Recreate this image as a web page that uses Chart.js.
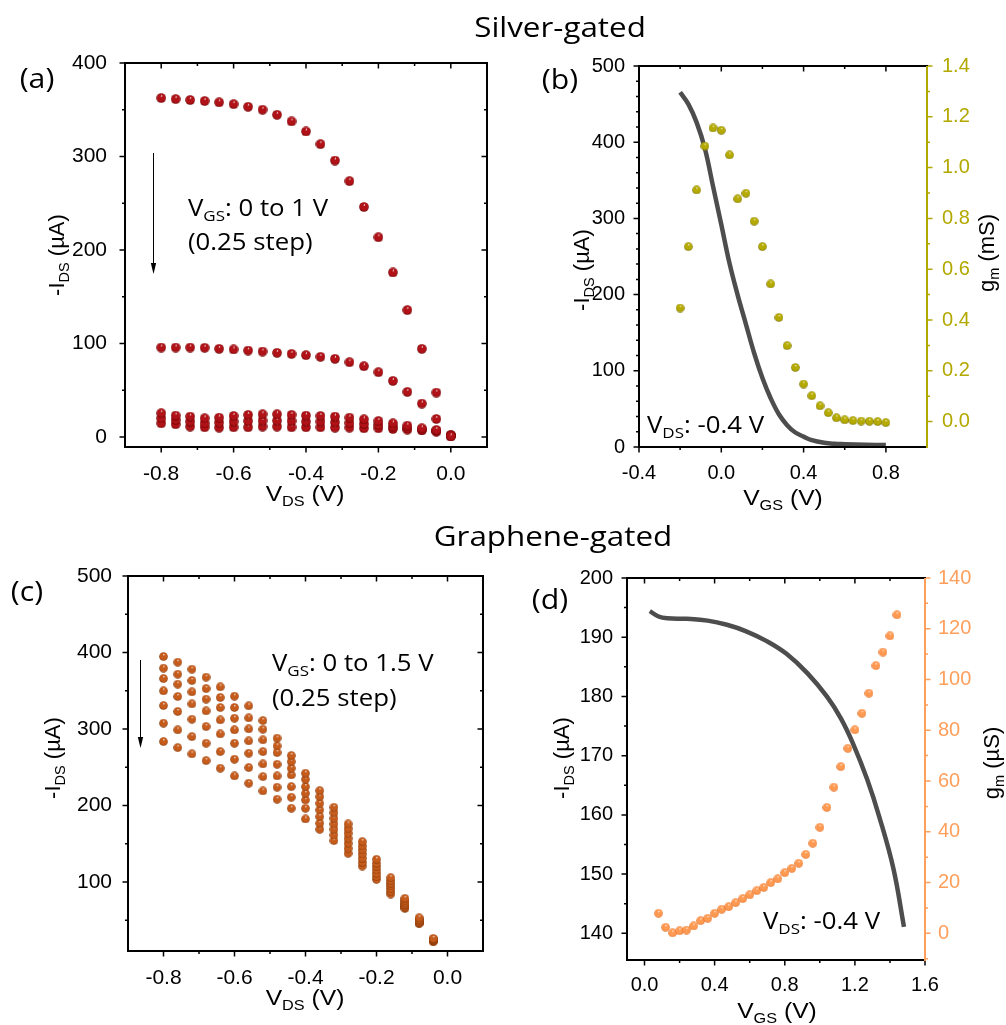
<!DOCTYPE html>
<html><head><meta charset="utf-8">
<script src="https://cdn.jsdelivr.net/npm/chart.js@4"></script>
<style>
body{margin:0;background:#fff;width:1006px;height:1025px;position:relative;overflow:hidden}
canvas{position:absolute}
.t{position:absolute;white-space:nowrap;color:#000;line-height:1}
.cal{font-family:'Open Sans',sans-serif}
.ar{font-family:'Liberation Sans',Arial,sans-serif;font-size:22px}
.s{font-size:0.66em;position:relative;top:0.32em}
.c{transform:translate(-50%,-50%) scaleX(1.12)}
.r{transform:translate(-50%,-50%) rotate(-90deg)}
.l{transform-origin:left center;transform:translateY(-50%) scaleX(1.12)}
</style></head><body>
<canvas id="ca"></canvas><canvas id="cb"></canvas><canvas id="cc"></canvas><canvas id="cd"></canvas>

<svg width="1006" height="1025" style="position:absolute;left:0;top:0;pointer-events:none" fill="none">
<!-- (a) frame and ticks -->
<path stroke="#000" stroke-width="1.5" d="M161.2 447V452.5M233.6 447V452.5M306 447V452.5M378.4 447V452.5M450.8 447V452.5M161.2 63V68.5M233.6 63V68.5M306 63V68.5M378.4 63V68.5M450.8 63V68.5M197.4 447V450M269.8 447V450M342.2 447V450M414.6 447V450M197.4 63V66M269.8 63V66M342.2 63V66M414.6 63V66M125 437H119.5M125 343.5H119.5M125 250H119.5M125 156.5H119.5M125 63H119.5M487 437H481.5M487 343.5H481.5M487 250H481.5M487 156.5H481.5M125 390.3H122M125 296.8H122M125 203.3H122M125 109.8H122M487 390.3H484M487 296.8H484M487 203.3H484M487 109.8H484"/>
<rect x="125" y="63" width="362" height="384" stroke="#000" stroke-width="2"/>
<!-- (b) frame and ticks -->
<path stroke="#000" stroke-width="1.5" d="M639 447V452.5M721.3 447V452.5M803.6 447V452.5M885.9 447V452.5M721.3 66V71.5M803.6 66V71.5M885.9 66V71.5M680.1 447V450M762.4 447V450M844.7 447V450M680.1 66V69M762.4 66V69M844.7 66V69M639 447H633.5M639 370.8H633.5M639 294.6H633.5M639 218.4H633.5M639 142.2H633.5M639 66H633.5M639 431.8H636M639 416.5H636M639 401.3H636M639 386H636M639 355.6H636M639 340.3H636M639 325.1H636M639 309.8H636M639 279.4H636M639 264.1H636M639 248.9H636M639 233.6H636M639 203.2H636M639 187.9H636M639 172.7H636M639 157.4H636M639 127H636M639 111.7H636M639 96.5H636M639 81.2H636"/>
<path stroke="#b3a800" stroke-width="1.5" d="M927 421.6H932.5M927 370.8H932.5M927 320H932.5M927 269.2H932.5M927 218.4H932.5M927 167.6H932.5M927 116.8H932.5M927 66H932.5M927 396.2H930M927 345.4H930M927 294.6H930M927 243.8H930M927 193H930M927 142.2H930M927 91.4H930"/>
<path stroke="#000" stroke-width="2" d="M638 66H928M638 447H928M639 66V447"/>
<path stroke="#b3a800" stroke-width="2" d="M927 66V448"/>
<!-- (c) frame and ticks -->
<path stroke="#000" stroke-width="1.5" d="M163.5 951V956.5M234.5 951V956.5M305.5 951V956.5M376.5 951V956.5M447.5 951V956.5M163.5 576V581.5M234.5 576V581.5M305.5 576V581.5M376.5 576V581.5M447.5 576V581.5M199 951V954M270 951V954M341 951V954M412 951V954M199 576V579M270 576V579M341 576V579M412 576V579M128 882H122.5M128 805.5H122.5M128 729H122.5M128 652.5H122.5M128 576H122.5M483 882H477.5M483 805.5H477.5M483 729H477.5M483 652.5H477.5M128 920.2H125M128 843.7H125M128 767.2H125M128 690.7H125M128 614.2H125M483 920.2H480M483 843.7H480M483 767.2H480M483 690.7H480M483 614.2H480"/>
<rect x="128" y="576" width="355" height="375" stroke="#000" stroke-width="2"/>
<!-- (d) frame and ticks -->
<path stroke="#000" stroke-width="1.5" d="M644.5 960V965.5M714.6 960V965.5M784.8 960V965.5M854.9 960V965.5M925 960V965.5M644.5 578V583.5M714.6 578V583.5M784.8 578V583.5M854.9 578V583.5M679.6 960V963M749.7 960V963M819.8 960V963M890 960V963M679.6 578V581M749.7 578V581M819.8 578V581M890 578V581M627 933.3H621.5M627 874.1H621.5M627 814.9H621.5M627 755.7H621.5M627 696.5H621.5M627 637.2H621.5M627 578H621.5M627 903.7H624M627 844.5H624M627 785.3H624M627 726.1H624M627 666.8H624M627 607.6H624"/>
<path stroke="#ff9f5c" stroke-width="1.5" d="M925 933.3H930.5M925 882.6H930.5M925 831.8H930.5M925 781H930.5M925 730.3H930.5M925 679.5H930.5M925 628.7H930.5M925 578H930.5M925 958.7H928M925 907.9H928M925 857.2H928M925 806.4H928M925 755.6H928M925 704.9H928M925 654.1H928M925 603.3H928"/>
<path stroke="#000" stroke-width="2" d="M626 578H926M626 960H926M627 578V960"/>
<path stroke="#ff9f5c" stroke-width="2" d="M925 578V961"/>
</svg>

<div class="t cal c" style="left:560px;top:26px;font-size:28px">Silver-gated</div>
<div class="t cal c" style="left:553px;top:535px;font-size:28px">Graphene-gated</div>
<div class="t cal c" style="left:37px;top:77px;font-size:27px">(a)</div>
<div class="t cal c" style="left:560px;top:78px;font-size:27px">(b)</div>
<div class="t cal c" style="left:27px;top:590px;font-size:27px">(c)</div>
<div class="t cal c" style="left:550px;top:598px;font-size:27px">(d)</div>

<div class="t ar r" style="left:57px;top:255px">-I<span class="s">DS</span> (µA)</div>
<div class="t ar c" style="left:305px;top:494px">V<span class="s">DS</span> (V)</div>
<div class="t ar r" style="left:582px;top:270px">-I<span class="s">DS</span> (µA)</div>
<div class="t ar r" style="left:987px;top:253px">g<span class="s">m</span> (mS)</div>
<div class="t ar c" style="left:783px;top:498px">V<span class="s">GS</span> (V)</div>
<div class="t ar r" style="left:53px;top:758px">-I<span class="s">DS</span> (µA)</div>
<div class="t ar c" style="left:305px;top:998px">V<span class="s">DS</span> (V)</div>
<div class="t ar r" style="left:562px;top:758px">-I<span class="s">DS</span> (µA)</div>
<div class="t ar r" style="left:992px;top:763px">g<span class="s">m</span> (µS)</div>
<div class="t ar c" style="left:777px;top:1011px">V<span class="s">GS</span> (V)</div>

<div class="t cal l" style="left:188px;top:207px;font-size:23px">V<span class="s">GS</span>: 0 to 1 V</div>
<div class="t cal l" style="left:188px;top:241px;font-size:23px">(0.25 step)</div>
<div class="t cal l" style="left:647px;top:424px;font-size:23px">V<span class="s">DS</span>: -0.4 V</div>
<div class="t cal l" style="left:272px;top:662px;font-size:23px">V<span class="s">GS</span>: 0 to 1.5 V</div>
<div class="t cal l" style="left:272px;top:697px;font-size:23px">(0.25 step)</div>
<div class="t cal l" style="left:763px;top:920px;font-size:23px">V<span class="s">DS</span>: -0.4 V</div>

<svg width="1006" height="1025" style="position:absolute;left:0;top:0;pointer-events:none">
<line x1="153.5" y1="153" x2="153.5" y2="266" stroke="#000" stroke-width="1"/>
<polygon points="150.8,263 156.2,263 153.5,274" fill="#000"/>
<line x1="140.5" y1="660" x2="140.5" y2="740" stroke="#000" stroke-width="1"/>
<polygon points="137.8,737 143.2,737 140.5,748" fill="#000"/>
</svg>

<script>
// ---------- Panel (a): silver-gated output ----------
const aVds = [-0.80,-0.76,-0.72,-0.68,-0.64,-0.60,-0.56,-0.52,-0.48,-0.44,-0.40,-0.36,-0.32,-0.28,-0.24,-0.20,-0.16,-0.12,-0.08,-0.04,0.00];
const aVgs000 = [362.5,361.4,360.4,359.3,357.9,356.0,353.2,350.0,344.6,337.5,326.8,313.2,295.7,273.6,246.0,213.6,176.0,135.7,94.3,47.5,0.7];
const aVgs025 = [95.7,95.7,95.7,95.4,94.3,93.6,92.5,91.4,90.0,88.9,87.5,85.7,83.6,80.0,75.7,69.3,60.0,48.2,35.7,19.3,0.7];
const aVgs050 = [25.4,22.9,21.8,20.0,20.7,22.5,23.6,24.3,24.3,23.6,22.9,22.5,21.8,20.7,18.9,17.1,14.6,12.1,9.3,7.5,2.1];
const aVgs075 = [20.0,18.2,16.4,14.6,15.4,16.4,17.1,17.5,17.5,17.1,16.4,16.4,15.7,15.0,13.9,12.9,11.1,9.3,7.9,6.4,1.8];
const aVgs100 = [14.6,13.6,11.1,10.4,10.0,10.4,10.4,11.1,11.1,10.4,10.4,10.4,10.0,10.0,9.3,9.3,8.6,7.9,7.1,5.7,1.4];
const aXTicks = [-0.8,-0.6,-0.4,-0.2,0.0];
const aYTicks = [0,100,200,300,400];

// ---------- Panel (b): silver-gated transfer ----------
const bLineVgs = [-0.20,-0.16,-0.12,-0.08,-0.04,0.00,0.04,0.08,0.12,0.16,0.20,0.24,0.28,0.32,0.36,0.40,0.44,0.50,0.55,0.60,0.70,0.80];
const bIds = [465.5,450.0,426.0,392.0,342.0,292.0,241.0,199.0,161.0,123.0,90.5,64.0,43.0,28.7,19.0,13.6,9.0,5.5,4.2,3.7,3.0,2.6];
const bGmVgs = [-0.20,-0.16,-0.12,-0.08,-0.04,0.00,0.04,0.08,0.12,0.16,0.20,0.24,0.28,0.32,0.36,0.40,0.44,0.48,0.52,0.56,0.60,0.64,0.68,0.72,0.76,0.80];
const bGm = [0.447,0.689,0.912,1.085,1.156,1.147,1.050,0.877,0.899,0.789,0.689,0.542,0.410,0.299,0.213,0.148,0.102,0.062,0.035,0.015,0.007,0.004,0.002,0.001,0.000,-0.004];
const bXTicks = [-0.4,0.0,0.4,0.8];
const bYTicks = [0,100,200,300,400,500];
const bY2Ticks = [0.0,0.2,0.4,0.6,0.8,1.0,1.2,1.4];

// ---------- Panel (c): graphene-gated output ----------
const cVds = [-0.80,-0.76,-0.72,-0.68,-0.64,-0.60,-0.56,-0.52,-0.48,-0.44,-0.40,-0.36,-0.32,-0.28,-0.24,-0.20,-0.16,-0.12,-0.08,-0.04];
const cVgs000 = [394.8,387.4,378.2,367.8,355.1,342.9,330.3,311.1,288.0,265.3,242.2,219.5,197.7,175.9,152.8,129.7,105.7,78.6,53.3,26.3];
const cVgs025 = [379.5,371.7,363.4,352.9,341.2,328.1,314.6,299.7,277.9,257.4,234.3,211.6,190.7,169.8,147.1,124.4,101.7,75.6,51.2,25.4];
const cVgs050 = [366.0,358.6,348.6,339.0,328.1,314.1,300.2,285.8,269.2,248.7,224.7,202.9,183.3,163.7,141.9,120.1,98.3,73.0,49.4,24.6];
const cVgs075 = [349.9,342.5,332.9,323.7,311.9,298.9,284.5,270.5,253.9,240.0,216.0,194.2,175.9,157.1,136.6,115.7,94.8,70.8,48.1,24.1];
const cVgs100 = [330.7,322.9,312.8,303.2,293.6,281.4,268.3,254.4,238.7,224.7,207.3,185.5,168.9,150.6,131.0,111.3,91.3,69.0,47.2,23.7];
const cVgs125 = [307.6,298.9,290.1,281.4,270.5,260.5,249.6,237.8,223.9,210.8,196.4,176.8,161.5,144.0,125.7,107.0,87.4,67.3,46.4,22.8];
const cVgs150 = [283.6,275.7,267.5,258.7,248.7,238.7,229.1,219.1,208.2,196.4,182.4,168.9,154.1,137.5,120.9,103.5,84.3,65.5,45.9,21.9];
const cXTicks = [-0.8,-0.6,-0.4,-0.2,0.0];
const cYTicks = [100,200,300,400,500];

// ---------- Panel (d): graphene-gated transfer ----------
const dLineVgs = [0.03,0.08,0.13,0.24,0.36,0.47,0.58,0.70,0.81,0.93,1.04,1.12,1.19,1.27,1.34,1.42,1.48];
const dIds = [194.4,193.5,193.2,193.1,192.8,192.1,191.0,189.3,187.2,183.9,180.0,176.3,172.0,166.0,159.6,150.9,141.1];
const dGmVgs = [0.08,0.12,0.16,0.20,0.24,0.28,0.32,0.36,0.40,0.44,0.48,0.52,0.56,0.60,0.64,0.68,0.72,0.76,0.80,0.84,0.88,0.92,0.96,1.00,1.04,1.08,1.12,1.16,1.20,1.24,1.28,1.32,1.36,1.40,1.44];
const dGm = [7.9,2.4,0.2,1.0,1.3,2.9,5.0,5.9,7.9,9.5,10.5,12.1,13.7,15.2,16.8,18.1,20.0,21.5,23.9,25.6,27.6,31.1,35.5,41.8,49.6,57.6,65.7,72.9,80.2,86.7,94.6,105.5,110.8,117.2,125.5];
const dXTicks = [0.0,0.4,0.8,1.2,1.6];
const dYTicks = [140,150,160,170,180,190,200];
const dY2Ticks = [0,20,40,60,80,100,120,140];

// ---------- helpers ----------
const FAM = "'Liberation Sans', Arial, sans-serif";
Chart.defaults.font.family = FAM;
Chart.defaults.color = '#000';

function xy(xs, ys){ return xs.map((x,i)=>({x:x, y:ys[i]})); }
function ball(base, dark, d){
  const c = document.createElement('canvas'); c.width = d; c.height = d;
  const g = c.getContext('2d'); const r = d/2;
  const gr = g.createRadialGradient(r*1.1, r*0.55, r*0.02, r, r, r);
  gr.addColorStop(0, '#ffffff'); gr.addColorStop(0.22, base); gr.addColorStop(0.75, base); gr.addColorStop(1, dark);
  g.fillStyle = gr; g.beginPath(); g.arc(r, r, r-0.2, 0, Math.PI*2); g.fill();
  return c;
}
function place(id, gm){
  const c = document.getElementById(id);
  c.width = gm.W; c.height = gm.H; c.style.left = gm.cx+'px'; c.style.top = gm.cy+'px';
  return c;
}
function setTicks(arr){ return s => { s.ticks = arr.map(v=>({value:v})); }; }
function xScale(min, max, ticks, gm, fs, pad){
  return { type:'linear', position:'bottom', min:min, max:max,
    grid:{display:false}, border:{display:false},
    afterBuildTicks: setTicks(ticks),
    afterFit: s=>{ s.height = gm.xh; },
    ticks:{ autoSkip:false, maxRotation:0, padding:pad, font:{family:FAM,size:fs}, color:'#000', callback:v=>Number(v).toFixed(1) } };
}
function yScale(pos, min, max, ticks, w, fs, pad, color, fmt){
  return { type:'linear', position:pos, min:min, max:max,
    grid:{display:false}, border:{display:false},
    afterBuildTicks: setTicks(ticks),
    afterFit: s=>{ s.width = w; },
    ticks:{ autoSkip:false, padding:pad, font:{family:FAM,size:fs}, color:color, callback:fmt } };
}
const intFmt = v=>String(Math.round(v));
const oneFmt = v=>Number(v).toFixed(1);
function baseOpts(gm){
  return { responsive:false, maintainAspectRatio:false, animation:false, devicePixelRatio:1,
    layout:{ padding:{ top:gm.pt, right:gm.pr, left:0, bottom:0 } },
    plugins:{ legend:{display:false}, tooltip:{enabled:false} } };
}
function ptSet(data, img, yAxis){
  return { type:'scatter', data:data, pointStyle:img, pointRadius:4.5, showLine:false, yAxisID:yAxis||'y' };
}
function lineSet(data, yAxis){
  return { type:'line', data:data, showLine:true, pointRadius:0, borderColor:'#4d4d4d', borderWidth:4.5,
    tension:0.4, fill:false, yAxisID:yAxis||'y' };
}
function build(id, gm, datasets, scales){
  const o = baseOpts(gm); o.scales = scales;
  return new Chart(place(id, gm), { type:'scatter', data:{ datasets:datasets }, options:o });
}

// ---------- (a) ----------
const gA = {cx:40, cy:40, W:462, H:447, xh:40, pt:23, pr:15};
const redBall = ball('#b01217', '#660000', 10);
build('ca', gA,
  [ptSet(xy(aVds,aVgs000), redBall), ptSet(xy(aVds,aVgs025), redBall), ptSet(xy(aVds,aVgs050), redBall),
   ptSet(xy(aVds,aVgs075), redBall), ptSet(xy(aVds,aVgs100), redBall)],
  { x: xScale(-0.9, 0.1, aXTicks, gA, 21, 7), y: yScale('left', -10.7, 400, aYTicks, 85, 21, 10, '#000', intFmt) });

// ---------- (b) ----------
const gB = {cx:570, cy:45, W:417, H:442, xh:40, pt:21, pr:0};
const oliveBall = ball('#b5aa00', '#6f6800', 9);
const OLIVE = '#b3a800';
build('cb', gB,
  [ptSet(xy(bGmVgs,bGm), oliveBall, 'y2'), lineSet(xy(bLineVgs,bIds))],
  { x: xScale(-0.4, 1.0, bXTicks, gB, 20, 6),
    y: yScale('left', 0, 500, bYTicks, 69, 20, 6, '#000', intFmt),
    y2: yScale('right', -0.1, 1.4, bY2Ticks, 60, 20, 7, OLIVE, oneFmt) });

// ---------- (c) ----------
const gC = {cx:40, cy:555, W:458, H:436, xh:40, pt:21, pr:15};
const brownBall = ball('#c65c1c', '#7f3304', 9);
build('cc', gC,
  [ptSet(xy(cVds,cVgs000), brownBall), ptSet(xy(cVds,cVgs025), brownBall), ptSet(xy(cVds,cVgs050), brownBall),
   ptSet(xy(cVds,cVgs075), brownBall), ptSet(xy(cVds,cVgs100), brownBall), ptSet(xy(cVds,cVgs125), brownBall),
   ptSet(xy(cVds,cVgs150), brownBall)],
  { x: xScale(-0.9, 0.1, cXTicks, gC, 21, 7), y: yScale('left', 9.8, 500, cYTicks, 88, 21, 8, '#000', intFmt) });

// ---------- (d) ----------
const gD = {cx:560, cy:555, W:435, H:445, xh:40, pt:23, pr:0};
const orangeBall = ball('#ff9a52', '#dd6a22', 9);
const ORANGE = '#ff9f5c';
build('cd', gD,
  [ptSet(xy(dGmVgs,dGm), orangeBall, 'y2'), lineSet(xy(dLineVgs,dIds))],
  { x: xScale(-0.1, 1.6, dXTicks, gD, 20, 5),
    y: yScale('left', 135.5, 200, dYTicks, 67, 20, 6, '#000', intFmt),
    y2: yScale('right', -10.5, 140, dY2Ticks, 70, 20, 5, ORANGE, intFmt) });
</script>
</body></html>
